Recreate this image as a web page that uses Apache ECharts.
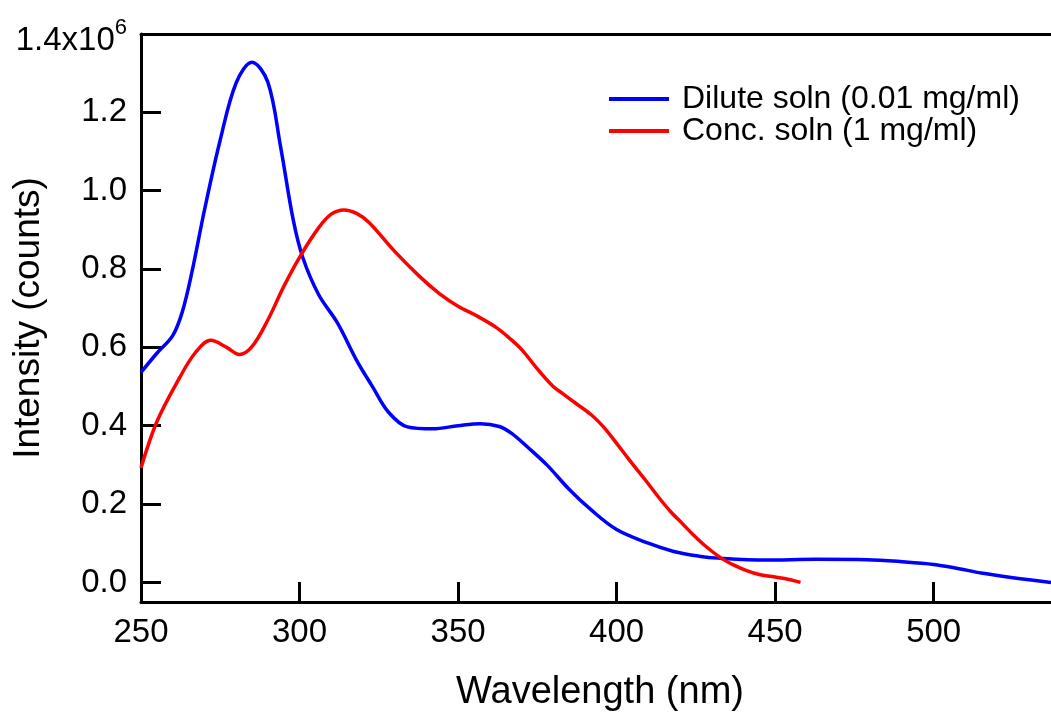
<!DOCTYPE html>
<html>
<head>
<meta charset="utf-8">
<script src="https://cdn.jsdelivr.net/npm/echarts@6/dist/echarts.min.js"></script>
<style>
html,body{margin:0;padding:0;background:#fff;}
#chart{width:1051px;height:716px;}
</style>
</head>
<body>
<div id="chart"></div>
<script>
// Wavelength (nm) and intensity (x10^6 counts)
var diluteWavelength = [250,255,260,263,266,270,275,280,285,290,294,298,301,306,312,318,323,328,334,342,350,357,363,367,372,378,385,392,400,410,418,426,432,447,463,479,490,500,508,515,525,537];
var diluteIntensity  = [0.536,0.585,0.630,0.690,0.790,0.950,1.130,1.275,1.328,1.277,1.113,0.926,0.830,0.735,0.662,0.567,0.500,0.435,0.397,0.392,0.400,0.405,0.398,0.380,0.345,0.300,0.238,0.185,0.135,0.100,0.079,0.067,0.062,0.057,0.059,0.058,0.053,0.046,0.035,0.024,0.012,0.000];

var concWavelength = [250,255,262,267,272,277,281,285,290,295,300,306,310,314,318,322,330,338,344,350,356,362,366,370,375,380,383,387,392,396,400,404,409,413,417,421,424,428,433,437,441,445,449,453,458];
var concIntensity  = [0.292,0.410,0.520,0.585,0.618,0.600,0.582,0.602,0.670,0.755,0.830,0.905,0.940,0.951,0.942,0.918,0.845,0.780,0.738,0.705,0.680,0.651,0.625,0.595,0.545,0.500,0.482,0.458,0.428,0.396,0.355,0.313,0.262,0.220,0.181,0.148,0.123,0.093,0.062,0.044,0.030,0.020,0.015,0.010,0.000];

var xTicks = [250,300,350,400,450,500];
var yTicks = [0.0,0.2,0.4,0.6,0.8,1.0,1.2,1.4];

var seriesNames = ['Dilute soln (0.01 mg/ml)','Conc. soln (1 mg/ml)'];

function pairs(xs, ys){ return xs.map(function(x,i){return [x, ys[i]];}); }

var FONT = '"Liberation Sans", Arial, Helvetica, sans-serif';
var chart = echarts.init(document.getElementById('chart'), null, {renderer:'canvas'});
chart.setOption({
  animation:false,
  backgroundColor:'#ffffff',
  textStyle:{fontFamily:FONT, color:'#000'},
  grid:{left:141, right:0, top:34, bottom:114, containLabel:false, outerBoundsMode:'none'},
  legend:{
    orient:'vertical', left:604, top:78,
    itemWidth:60, itemHeight:4, itemGap:0,
    icon:'rect',
    textStyle:{fontFamily:FONT, fontSize:32, color:'#000', padding:[0,0,0,8]},
    data:seriesNames
  },
  xAxis:[{
    type:'value', min:250, max:537, position:'bottom',
    name:'Wavelength (nm)', nameLocation:'middle', nameGap:72, nameMoveOverlap:false,
    nameTextStyle:{fontFamily:FONT, fontSize:38, color:'#000', padding:[0,0,0,8]},
    axisLine:{show:true, onZero:false, lineStyle:{color:'#000', width:3}},
    axisTick:{show:true, inside:true, length:20, lineStyle:{color:'#000', width:3}, customValues:xTicks},
    axisLabel:{fontFamily:FONT, fontSize:33, color:'#000', margin:14, customValues:xTicks},
    splitLine:{show:false}
  },{
    type:'value', min:250, max:537, position:'top',
    axisLine:{show:true, onZero:false, lineStyle:{color:'#000', width:3}},
    axisTick:{show:false}, axisLabel:{show:false}, splitLine:{show:false}
  }],
  yAxis:{
    type:'value', min:-0.05, max:1.4,
    name:'Intensity (counts)', nameLocation:'middle', nameGap:94, nameRotate:90, nameMoveOverlap:false,
    nameTextStyle:{fontFamily:FONT, fontSize:37, color:'#000'},
    axisLine:{show:true, onZero:false, lineStyle:{color:'#000', width:3}},
    axisTick:{show:true, inside:true, length:20, lineStyle:{color:'#000', width:3}, customValues:yTicks},
    axisLabel:{
      fontFamily:FONT, fontSize:33, color:'#000', margin:14, customValues:yTicks,
      formatter:function(v){
        if (Math.abs(v-1.4)<1e-6) return '{a|1.4x10}{b|6}';
        return v.toFixed(1);
      },
      rich:{
        a:{fontFamily:FONT, fontSize:33, color:'#000', padding:[14,0,0,0]},
        b:{fontFamily:FONT, fontSize:22, color:'#000', padding:[0,0,12,0]}
      }
    },
    splitLine:{show:false}
  },
  series:[{
    name:seriesNames[0], type:'line', data:pairs(diluteWavelength, diluteIntensity),
    smooth:0.35, showSymbol:false, symbol:'none',
    lineStyle:{color:'#0000ff', width:3.5}, itemStyle:{color:'#0000ff'}
  },{
    name:seriesNames[1], type:'line', data:pairs(concWavelength, concIntensity),
    smooth:0.35, showSymbol:false, symbol:'none',
    lineStyle:{color:'#ff0000', width:3.5}, itemStyle:{color:'#ff0000'}
  }]
});
</script>
</body>
</html>
